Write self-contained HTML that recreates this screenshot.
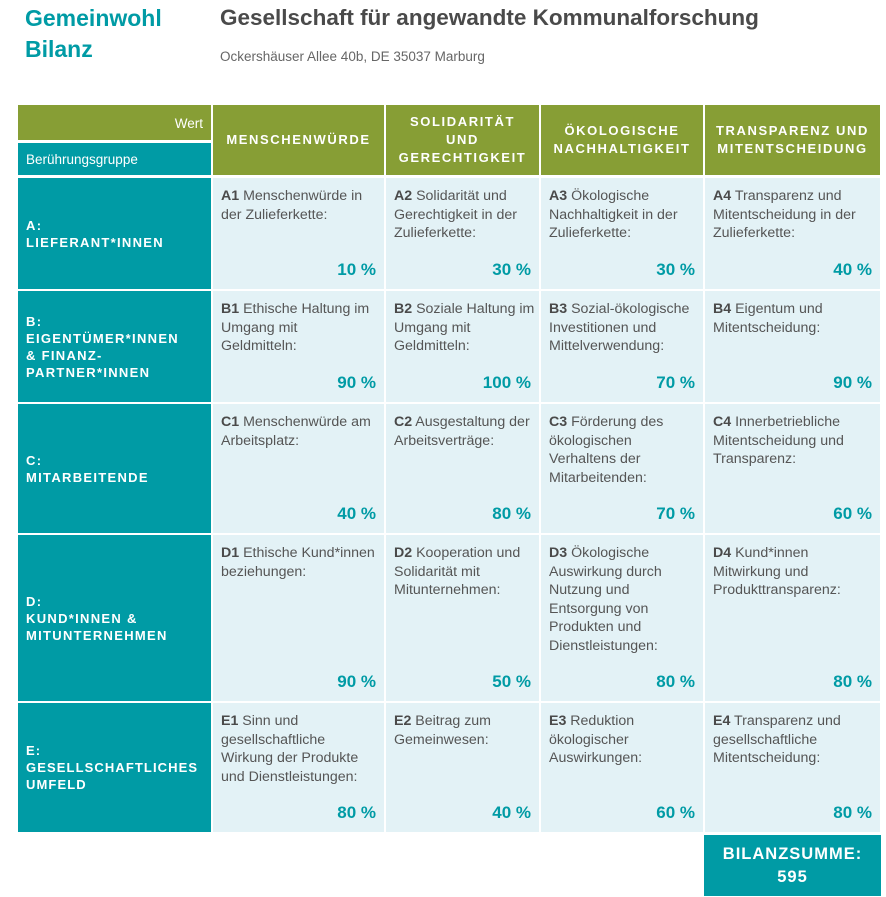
<!DOCTYPE html><html><head><meta charset="utf-8"><style>
*{margin:0;padding:0;box-sizing:border-box}
body{width:886px;height:897px;background:#fff;position:relative;font-family:"Liberation Sans",sans-serif;overflow:hidden}
.a{position:absolute}
.ol{background:#879e35;color:#fff}
.tl{background:#009ba5;color:#fff}
.c{background:#e3f2f6;color:#555;font-size:14.2px;line-height:18.5px;padding:9px 0 0 8px;white-space:nowrap}
.c b{color:#4a4a4a}
.p{position:absolute;right:8px;bottom:10px;color:#009ba5;font-weight:bold;font-size:17px}
.h{display:flex;align-items:center;justify-content:center;text-align:center;font-weight:bold;font-size:13px;letter-spacing:1.6px;line-height:18px}
.r{font-weight:bold;font-size:13px;letter-spacing:1.3px;line-height:17px;padding-left:8px;display:flex;align-items:center;white-space:nowrap}
</style></head><body>
<div class="a" style="left:25px;top:3px;color:#009ba5;font-weight:bold;font-size:23px;line-height:31px">Gemeinwohl<br>Bilanz</div>
<div class="a" style="left:220px;top:4px;color:#4a4a4a;font-weight:bold;font-size:22.5px;line-height:28px">Gesellschaft für angewandte Kommunalforschung</div>
<div class="a" style="left:220px;top:49px;color:#666;font-size:13.5px">Ockershäuser Allee 40b, DE 35037 Marburg</div>

<div class="a ol" style="left:18px;top:105px;width:193px;height:35px;font-size:13.5px;text-align:right;padding:11px 8px 0 0">Wert</div>
<div class="a tl" style="left:18px;top:143px;width:193px;height:32px;font-size:13.5px;padding:9px 0 0 8px">Berührungsgruppe</div>
<div class="a ol h" style="left:213px;top:105px;width:171px;height:70px">MENSCHENWÜRDE</div>
<div class="a ol h" style="left:386px;top:105px;width:153px;height:70px">SOLIDARITÄT<br>UND<br>GERECHTIGKEIT</div>
<div class="a ol h" style="left:541px;top:105px;width:162px;height:70px">ÖKOLOGISCHE<br>NACHHALTIGKEIT</div>
<div class="a ol h" style="left:705px;top:105px;width:175px;height:70px">TRANSPARENZ UND<br>MITENTSCHEIDUNG</div>

<div class="a tl r" style="left:18px;top:178px;width:193px;height:111px">A:<br>LIEFERANT*INNEN</div>
<div class="a c" style="left:213px;top:178px;width:171px;height:111px"><b>A1</b> Menschenwürde in<br>der Zulieferkette:<span class="p">10 %</span></div>
<div class="a c" style="left:386px;top:178px;width:153px;height:111px"><b>A2</b> Solidarität und<br>Gerechtigkeit in der<br>Zulieferkette:<span class="p">30 %</span></div>
<div class="a c" style="left:541px;top:178px;width:162px;height:111px"><b>A3</b> Ökologische<br>Nachhaltigkeit in der<br>Zulieferkette:<span class="p">30 %</span></div>
<div class="a c" style="left:705px;top:178px;width:175px;height:111px"><b>A4</b> Transparenz und<br>Mitentscheidung in der<br>Zulieferkette:<span class="p">40 %</span></div>

<div class="a tl r" style="left:18px;top:291px;width:193px;height:111px">B:<br>EIGENTÜMER*INNEN<br>&amp; FINANZ-<br>PARTNER*INNEN</div>
<div class="a c" style="left:213px;top:291px;width:171px;height:111px"><b>B1</b> Ethische Haltung im<br>Umgang mit<br>Geldmitteln:<span class="p">90 %</span></div>
<div class="a c" style="left:386px;top:291px;width:153px;height:111px;overflow:hidden"><b>B2</b> Soziale Haltung im<br>Umgang mit<br>Geldmitteln:<span class="p">100 %</span></div>
<div class="a c" style="left:541px;top:291px;width:162px;height:111px"><b>B3</b> Sozial-ökologische<br>Investitionen und<br>Mittelverwendung:<span class="p">70 %</span></div>
<div class="a c" style="left:705px;top:291px;width:175px;height:111px"><b>B4</b> Eigentum und<br>Mitentscheidung:<span class="p">90 %</span></div>

<div class="a tl r" style="left:18px;top:404px;width:193px;height:129px">C:<br>MITARBEITENDE</div>
<div class="a c" style="left:213px;top:404px;width:171px;height:129px"><b>C1</b> Menschenwürde am<br>Arbeitsplatz:<span class="p">40 %</span></div>
<div class="a c" style="left:386px;top:404px;width:153px;height:129px"><b>C2</b> Ausgestaltung der<br>Arbeitsverträge:<span class="p">80 %</span></div>
<div class="a c" style="left:541px;top:404px;width:162px;height:129px"><b>C3</b> Förderung des<br>ökologischen<br>Verhaltens der<br>Mitarbeitenden:<span class="p">70 %</span></div>
<div class="a c" style="left:705px;top:404px;width:175px;height:129px"><b>C4</b> Innerbetriebliche<br>Mitentscheidung und<br>Transparenz:<span class="p">60 %</span></div>

<div class="a tl r" style="left:18px;top:535px;width:193px;height:166px">D:<br>KUND*INNEN &amp;<br>MITUNTERNEHMEN</div>
<div class="a c" style="left:213px;top:535px;width:171px;height:166px;overflow:hidden"><b>D1</b> Ethische Kund*innen<br>beziehungen:<span class="p">90 %</span></div>
<div class="a c" style="left:386px;top:535px;width:153px;height:166px"><b>D2</b> Kooperation und<br>Solidarität mit<br>Mitunternehmen:<span class="p">50 %</span></div>
<div class="a c" style="left:541px;top:535px;width:162px;height:166px"><b>D3</b> Ökologische<br>Auswirkung durch<br>Nutzung und<br>Entsorgung von<br>Produkten und<br>Dienstleistungen:<span class="p">80 %</span></div>
<div class="a c" style="left:705px;top:535px;width:175px;height:166px"><b>D4</b> Kund*innen<br>Mitwirkung und<br>Produkttransparenz:<span class="p">80 %</span></div>

<div class="a tl r" style="left:18px;top:703px;width:193px;height:129px;letter-spacing:1.1px">E:<br>GESELLSCHAFTLICHES<br>UMFELD</div>
<div class="a c" style="left:213px;top:703px;width:171px;height:129px"><b>E1</b> Sinn und<br>gesellschaftliche<br>Wirkung der Produkte<br>und Dienstleistungen:<span class="p">80 %</span></div>
<div class="a c" style="left:386px;top:703px;width:153px;height:129px"><b>E2</b> Beitrag zum<br>Gemeinwesen:<span class="p">40 %</span></div>
<div class="a c" style="left:541px;top:703px;width:162px;height:129px"><b>E3</b> Reduktion<br>ökologischer<br>Auswirkungen:<span class="p">60 %</span></div>
<div class="a c" style="left:705px;top:703px;width:175px;height:129px"><b>E4</b> Transparenz und<br>gesellschaftliche<br>Mitentscheidung:<span class="p">80 %</span></div>

<div class="a tl" style="left:704px;top:835px;width:177px;height:61px;text-align:center;font-weight:bold;font-size:16.5px;letter-spacing:1px;line-height:23px;padding-top:8px">BILANZSUMME:<br>595</div>
</body></html>
